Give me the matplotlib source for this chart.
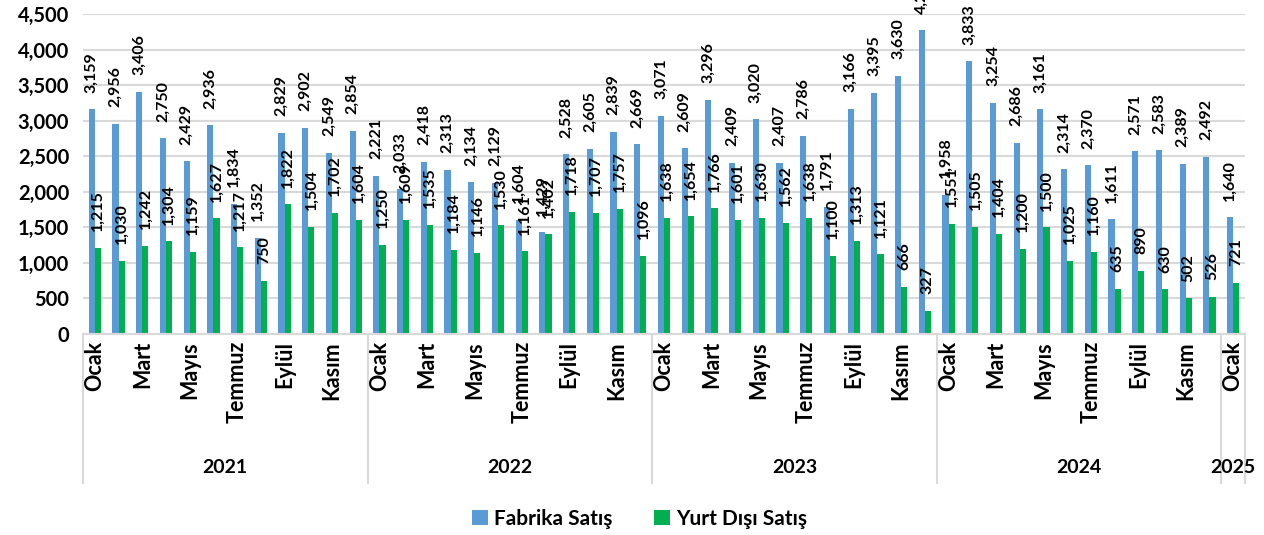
import numpy as np
import matplotlib.pyplot as plt
from matplotlib.ticker import FuncFormatter

plt.rcParams['font.family'] = ['Lato', 'DejaVu Sans']
plt.rcParams['font.weight'] = 'bold'

months = ["Ocak", "Şubat", "Mart", "Nisan", "Mayıs", "Haziran",
          "Temmuz", "Ağustos", "Eylül", "Ekim", "Kasım", "Aralık"]
years = ["2021", "2022", "2023", "2024", "2025"]

fabrika = [3159, 2956, 3406, 2750, 2429, 2936, 1834, 1352, 2829, 2902, 2549, 2854,
           2221, 2033, 2418, 2313, 2134, 2129, 1604, 1429, 2528, 2605, 2839, 2669,
           3071, 2609, 3296, 2409, 3020, 2407, 2786, 1791, 3166, 3395, 3630, 4270,
           1958, 3833, 3254, 2686, 3161, 2314, 2370, 1611, 2571, 2583, 2389, 2492,
           1640]
yurt_disi = [1215, 1030, 1242, 1304, 1159, 1627, 1217, 750, 1822, 1504, 1702, 1604,
             1250, 1609, 1535, 1184, 1146, 1530, 1161, 1402, 1718, 1707, 1757, 1096,
             1638, 1654, 1766, 1601, 1630, 1562, 1638, 1100, 1313, 1121, 666, 327,
             1551, 1505, 1404, 1200, 1500, 1025, 1160, 635, 890, 630, 502, 526,
             721]

BLUE = "#5B9BD5"
GREEN = "#00B050"

n = len(fabrika)
x = np.arange(n)
w = 0.26

fig = plt.figure(figsize=(12.64, 5.35), dpi=100)
ax = fig.add_axes([83/1264, 1-334/535, (1245-83)/1264, 320/535])

b1 = ax.bar(x - w/2, fabrika, w, color=BLUE, label="Fabrika Satış")
b2 = ax.bar(x + w/2, yurt_disi, w, color=GREEN, label="Yurt Dışı Satış")

# data labels, rotated like the original
for bars, vals in ((b1, fabrika), (b2, yurt_disi)):
    for b, v in zip(bars, vals):
        ax.annotate(f"{v:,}", (b.get_x() + b.get_width()/2, v), xytext=(0, 12),
                    textcoords="offset points", rotation=90, ha="center", va="bottom",
                    fontsize=11.5, fontweight="bold", annotation_clip=False)

ax.set_xlim(-0.5, n - 0.5)
ax.set_ylim(0, 4500)
ax.set_yticks(np.arange(0, 4501, 500))
ax.yaxis.set_major_formatter(FuncFormatter(lambda v, p: f"{int(v):,}"))
ax.grid(axis="y", color="#D9D9D9", lw=1.5)
ax.set_axisbelow(True)
for s in ("top", "right", "left"):
    ax.spines[s].set_visible(False)
ax.spines["bottom"].set_color("#D9D9D9")
ax.spines["bottom"].set_linewidth(1.5)

tick_pos = x[::2]
tick_lab = [months[i % 12] for i in tick_pos]
ax.set_xticks(tick_pos)
ax.set_xticklabels(tick_lab, rotation=90, fontsize=15.5, fontweight="bold", va="top")
ax.tick_params(axis="x", length=0, pad=5)
ax.tick_params(axis="y", length=0, labelsize=14.5, pad=10)
for lab in ax.get_yticklabels():
    lab.set_fontweight("bold")

# year groups with separators
trans = ax.get_xaxis_transform()
bounds = [-0.5, 11.5, 23.5, 35.5, 47.5, 48.5]
for b in bounds:
    ax.plot([b, b], [0, -0.466], transform=trans, color="#D9D9D9", lw=1.5, clip_on=False)
for i, yr in enumerate(years):
    ax.text((bounds[i] + bounds[i+1]) / 2, -0.416, yr, transform=trans,
            ha="center", va="center", fontsize=14, fontweight="bold")

fig.legend(handles=[b1, b2], loc="center", bbox_to_anchor=(0.506, 1-519/535), ncol=2,
           frameon=False, fontsize=15, handlelength=0.75, handleheight=0.75,
           columnspacing=2.0, handletextpad=0.3)

fig.savefig("out.png", dpi=100)
